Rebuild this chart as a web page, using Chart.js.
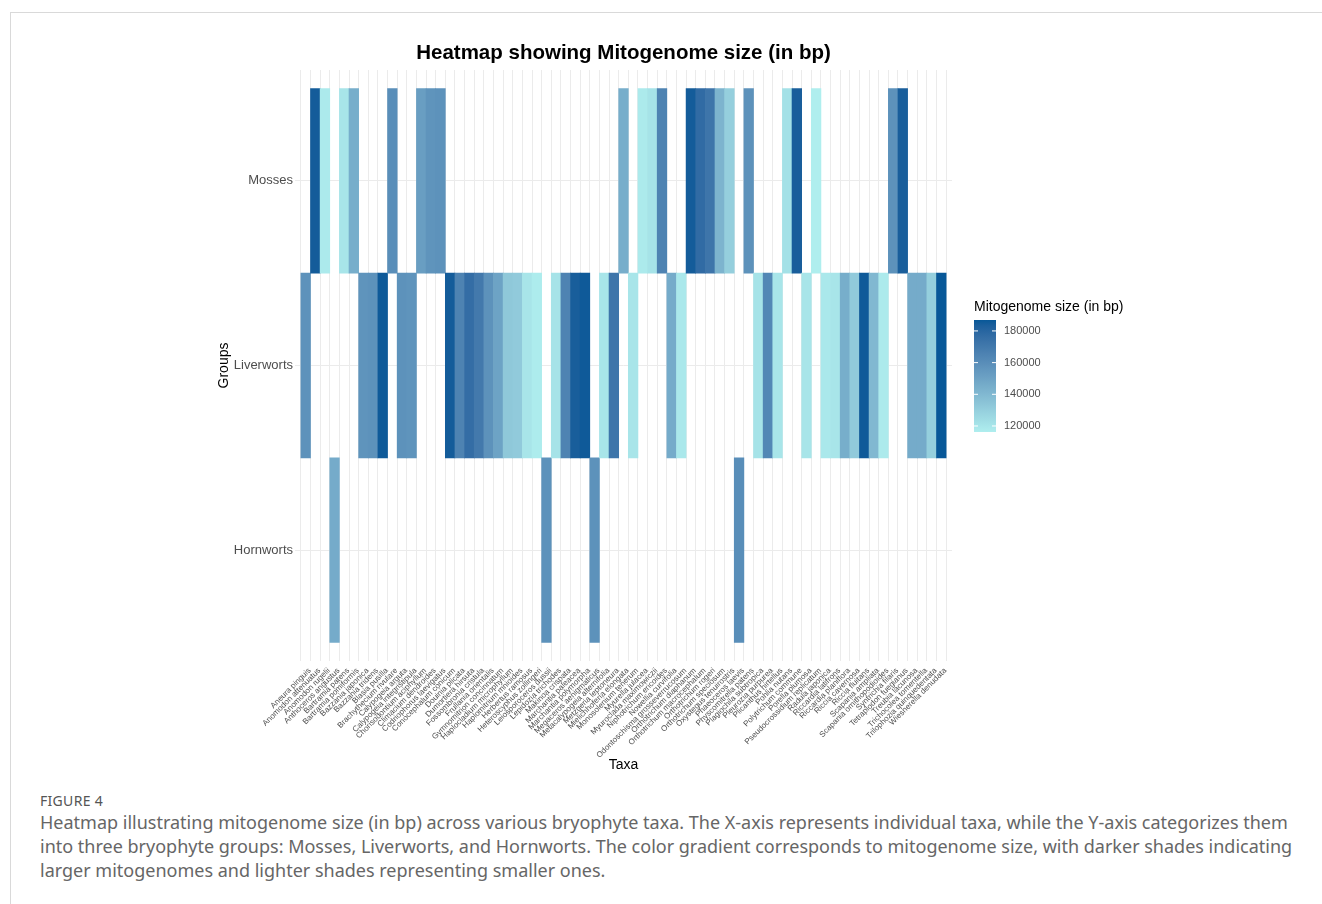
<!DOCTYPE html>
<html>
<head>
    <title>Heatmap showing Mitogenome size</title>
    <script src="https://cdn.jsdelivr.net/npm/chart.js"></script>
    <style>
        body {
            margin: 0;
            background: #fff;
            font-family: "Liberation Sans", Arial, sans-serif;
        }
        #frame {
            position: absolute;
            left: 10px;
            top: 12px;
            width: 1312px;
            height: 892px;
            border-top: 1px solid #d9d9d9;
            border-left: 1px solid #d9d9d9;
        }
        #chart-box {
            position: absolute;
            left: 0;
            top: 0;
            width: 1322px;
            height: 790px;
        }
        #fig-label {
            position: absolute;
            left: 40px;
            top: 791px;
            font-family: "Noto Sans", "Open Sans", sans-serif;
            font-size: 14px;
            color: #555;
            letter-spacing: 0.3px;
        }
        #caption {
            position: absolute;
            left: 40px;
            top: 810px;
            font-family: "Noto Sans", "Open Sans", sans-serif;
            font-size: 18px;
            line-height: 24px;
            color: #666;
            white-space: nowrap;
        }
    </style>
</head>
<body>

<div id="frame"></div>
<div id="chart-box">
    <canvas id="heatmap" width="1322" height="790"></canvas>
</div>
<div id="fig-label">FIGURE 4</div>
<div id="caption">
    Heatmap illustrating mitogenome size (in bp) across various bryophyte taxa. The X-axis represents individual taxa, while the Y-axis categorizes them<br>
    into three bryophyte groups: Mosses, Liverworts, and Hornworts. The color gradient corresponds to mitogenome size, with darker shades indicating<br>
    larger mitogenomes and lighter shades representing smaller ones.
</div>

<script>
    // y-axis categories, bottom to top
    const groupNames = ["Hornworts", "Liverworts", "Mosses"];

    const taxa = [
        "Aneura pinguis", "Anomodon attenuatus", "Anomodon rugelii", "Anthoceros angustus",
        "Bartramia patens", "Bartramia pomiformis", "Bazzania japonica", "Bazzania tridens",
        "Blasia pusilla", "Brachythecium rivulare", "Calypogeia arguta", "Calypogeia integristipula",
        "Chorisodontium aciphyllum", "Climacium dendroides", "Codriophorus laevigatus", "Conocephalum conicum",
        "Douinia plicata", "Dumortiera hirsuta", "Fossombronia cristula", "Frullania orientalis",
        "Gymnomitrion concinnatum", "Haplocladium microphyllum", "Haplomitrium mnioides", "Herbertus ramosus",
        "Heteroscyphus zollingeri", "Leiosporoceros dussii", "Lepidozia trichodes", "Makinoa crispata",
        "Marchantia paleacea", "Marchantia polymorpha", "Megaceros aenigmaticus", "Metacalypogeia alternifolia",
        "Metzgeria leptoneura", "Mielichhoferia elongata", "Monosolenium tenerum", "Myurella julacea",
        "Myuroclada maximowiczii", "Niphotrichum ericoides", "Nowellia curvifolia", "Odontoschisma grosseverrucosum",
        "Orthotrichum diaphanum", "Orthotrichum macrocephalum", "Orthotrichum rogeri", "Orthotrichum speciosum",
        "Oxystegus tenuirostris", "Phaeoceros laevis", "Physcomitrella patens", "Plagiochila subtropica",
        "Pleurozia purpurea", "Plicanthus hirtellus", "Pohlia nutans", "Polytrichum commune",
        "Porella plumosa", "Pseudocrossidium replicatum", "Radula japonica", "Riccardia latifrons",
        "Riccardia planiflora", "Riccia cavernosa", "Riccia fluitans", "Scapania ampliata",
        "Scapania ornithopodioides", "Syntrichia filaris", "Tetraplodon fuegianus", "Treubia lacunosa",
        "Trichocolea tomentella", "Trilophozia quinquedentata", "Wiesnerella denudata"
    ];

    // group of each taxon (index into groupNames): 0 Hornworts, 1 Liverworts, 2 Mosses
    const taxonGroup = [
        1, 2, 2, 0, 2, 2, 1, 1, 1, 2, 1, 1, 2, 2, 2, 1,
        1, 1, 1, 1, 1, 1, 1, 1, 1, 0, 1, 1, 1, 1, 0, 1,
        1, 2, 1, 2, 2, 2, 1, 1, 2, 2, 2, 2, 2, 0, 2, 1,
        1, 1, 2, 2, 1, 2, 1, 1, 1, 1, 1, 1, 1, 2, 2, 1,
        1, 1, 1
    ];

    // mitogenome size in bp
    const mitoSize = [
        158000, 185000, 118000, 146000, 120000, 145000, 157000, 158000,
        186000, 160000, 158000, 157000, 152000, 157000, 158000, 185000,
        165000, 176000, 170000, 158000, 150000, 133000, 132000, 120000,
        117000, 158000, 121000, 165000, 184000, 186000, 158000, 120000,
        172000, 145000, 120000, 118000, 121000, 165000, 146000, 119000,
        185000, 177000, 172000, 142000, 130000, 160000, 158000, 121000,
        163000, 120000, 122000, 184000, 120000, 116200, 119000, 120000,
        145000, 132000, 186000, 140000, 118000, 158000, 184000, 146000,
        146000, 130000, 186900
    ];

    const legendTicks = [120000, 140000, 160000, 180000];

    const lowColor = [175, 238, 238];   // paleturquoise
    const highColor = [8, 88, 152];

    const sizeMin = Math.min(...mitoSize);
    const sizeMax = Math.max(...mitoSize);

    // gradient is interpolated in CIELAB, like ggplot's scale_fill_gradient
    function toLab(rgb) {
        const lin = rgb.map(c => {
            c /= 255;
            return c <= 0.04045 ? c / 12.92 : Math.pow((c + 0.055) / 1.055, 2.4);
        });
        const X = (lin[0] * 0.4124 + lin[1] * 0.3576 + lin[2] * 0.1805) / 0.95047;
        const Y = (lin[0] * 0.2126 + lin[1] * 0.7152 + lin[2] * 0.0722);
        const Z = (lin[0] * 0.0193 + lin[1] * 0.1192 + lin[2] * 0.9505) / 1.08883;
        const f = t => t > 0.008856 ? Math.cbrt(t) : 7.787 * t + 16 / 116;
        return [116 * f(Y) - 16, 500 * (f(X) - f(Y)), 200 * (f(Y) - f(Z))];
    }

    function fromLab(lab) {
        const fy = (lab[0] + 16) / 116, fx = fy + lab[1] / 500, fz = fy - lab[2] / 200;
        const inv = t => t * t * t > 0.008856 ? t * t * t : (t - 16 / 116) / 7.787;
        const X = inv(fx) * 0.95047, Y = inv(fy), Z = inv(fz) * 1.08883;
        const lin = [
            X * 3.2406 + Y * -1.5372 + Z * -0.4986,
            X * -0.9689 + Y * 1.8758 + Z * 0.0415,
            X * 0.0557 + Y * -0.2040 + Z * 1.0570
        ];
        return lin.map(c => {
            c = c <= 0.0031308 ? 12.92 * c : 1.055 * Math.pow(c, 1 / 2.4) - 0.055;
            return Math.max(0, Math.min(255, Math.round(c * 255)));
        });
    }

    const lowLab = toLab(lowColor);
    const highLab = toLab(highColor);

    function colorFor(v) {
        const t = (v - sizeMin) / (sizeMax - sizeMin);
        const c = fromLab(lowLab.map((lo, k) => lo + (highLab[k] - lo) * t));
        return `rgb(${c[0]},${c[1]},${c[2]})`;
    }

    const extrasPlugin = {
        id: "extras",
        afterDraw(chart) {
            const ctx = chart.ctx;
            const area = chart.chartArea;
            ctx.save();

            // title, centred over the panel
            ctx.fillStyle = "#000";
            ctx.font = "bold 20.5px 'Liberation Sans', Arial, sans-serif";
            ctx.textAlign = "center";
            ctx.textBaseline = "middle";
            ctx.fillText("Heatmap showing Mitogenome size (in bp)", (area.left + area.right) / 2, 53);

            // colour bar legend
            const bx = area.right + 22;
            const top = 320, bottom = 432, bw = 22;
            ctx.textAlign = "left";
            ctx.font = "14px 'Liberation Sans', Arial, sans-serif";
            ctx.fillText("Mitogenome size (in bp)", bx, 307);

            const grad = ctx.createLinearGradient(0, bottom, 0, top);
            for (let i = 0; i <= 20; i++) {
                grad.addColorStop(i / 20, colorFor(sizeMin + (sizeMax - sizeMin) * i / 20));
            }
            ctx.fillStyle = grad;
            ctx.fillRect(bx, top, bw, bottom - top);

            ctx.font = "11px 'Liberation Sans', Arial, sans-serif";
            legendTicks.forEach(v => {
                const y = bottom - (v - sizeMin) / (sizeMax - sizeMin) * (bottom - top);
                ctx.strokeStyle = "#fff";
                ctx.lineWidth = 1;
                ctx.beginPath();
                ctx.moveTo(bx, y); ctx.lineTo(bx + 4, y);
                ctx.moveTo(bx + bw - 4, y); ctx.lineTo(bx + bw, y);
                ctx.stroke();
                ctx.fillStyle = "#4d4d4d";
                ctx.fillText(String(v), bx + bw + 8, y);
            });
            ctx.restore();
        }
    };

    const ctx = document.getElementById("heatmap").getContext("2d");
    new Chart(ctx, {
        type: "bar",
        data: {
            datasets: [{
                data: taxa.map((t, i) => ({ x: i, y: [taxonGroup[i] - 0.5, taxonGroup[i] + 0.5] })),
                backgroundColor: mitoSize.map(colorFor),
                borderWidth: 0,
                barPercentage: 1,
                categoryPercentage: 1
            }]
        },
        options: {
            responsive: false,
            animation: false,
            layout: {
                padding: { left: 212, top: 70, right: 370, bottom: 12 }
            },
            plugins: {
                legend: { display: false },
                tooltip: { enabled: false }
            },
            scales: {
                x: {
                    type: "linear",
                    min: -0.6,
                    max: taxa.length - 0.4,
                    afterBuildTicks: axis => {
                        axis.ticks = taxa.map((t, i) => ({ value: i }));
                    },
                    afterFit: axis => { axis.height = 117; },
                    ticks: {
                        autoSkip: false,
                        minRotation: 45,
                        maxRotation: 45,
                        padding: 5,
                        labelOffset: 4,
                        color: "#4d4d4d",
                        font: { size: 8, family: "'Liberation Sans', Arial, sans-serif" },
                        callback: v => taxa[v]
                    },
                    grid: { color: "#ebebeb", drawTicks: false },
                    border: { display: false },
                    title: {
                        display: true,
                        text: "Taxa",
                        color: "#000",
                        padding: 4,
                        font: { size: 14, family: "'Liberation Sans', Arial, sans-serif" }
                    }
                },
                y: {
                    type: "linear",
                    min: -0.6,
                    max: 2.6,
                    afterBuildTicks: axis => {
                        axis.ticks = groupNames.map((g, i) => ({ value: i }));
                    },
                    afterFit: axis => { axis.width = 83; },
                    ticks: {
                        padding: 2,
                        color: "#4d4d4d",
                        font: { size: 13, family: "'Liberation Sans', Arial, sans-serif" },
                        callback: v => groupNames[v]
                    },
                    grid: { color: "#ebebeb", drawTicks: false },
                    border: { display: false },
                    title: {
                        display: true,
                        text: "Groups",
                        color: "#000",
                        padding: 4,
                        font: { size: 14, family: "'Liberation Sans', Arial, sans-serif" }
                    }
                }
            }
        },
        plugins: [extrasPlugin]
    });
</script>

</body>
</html>
